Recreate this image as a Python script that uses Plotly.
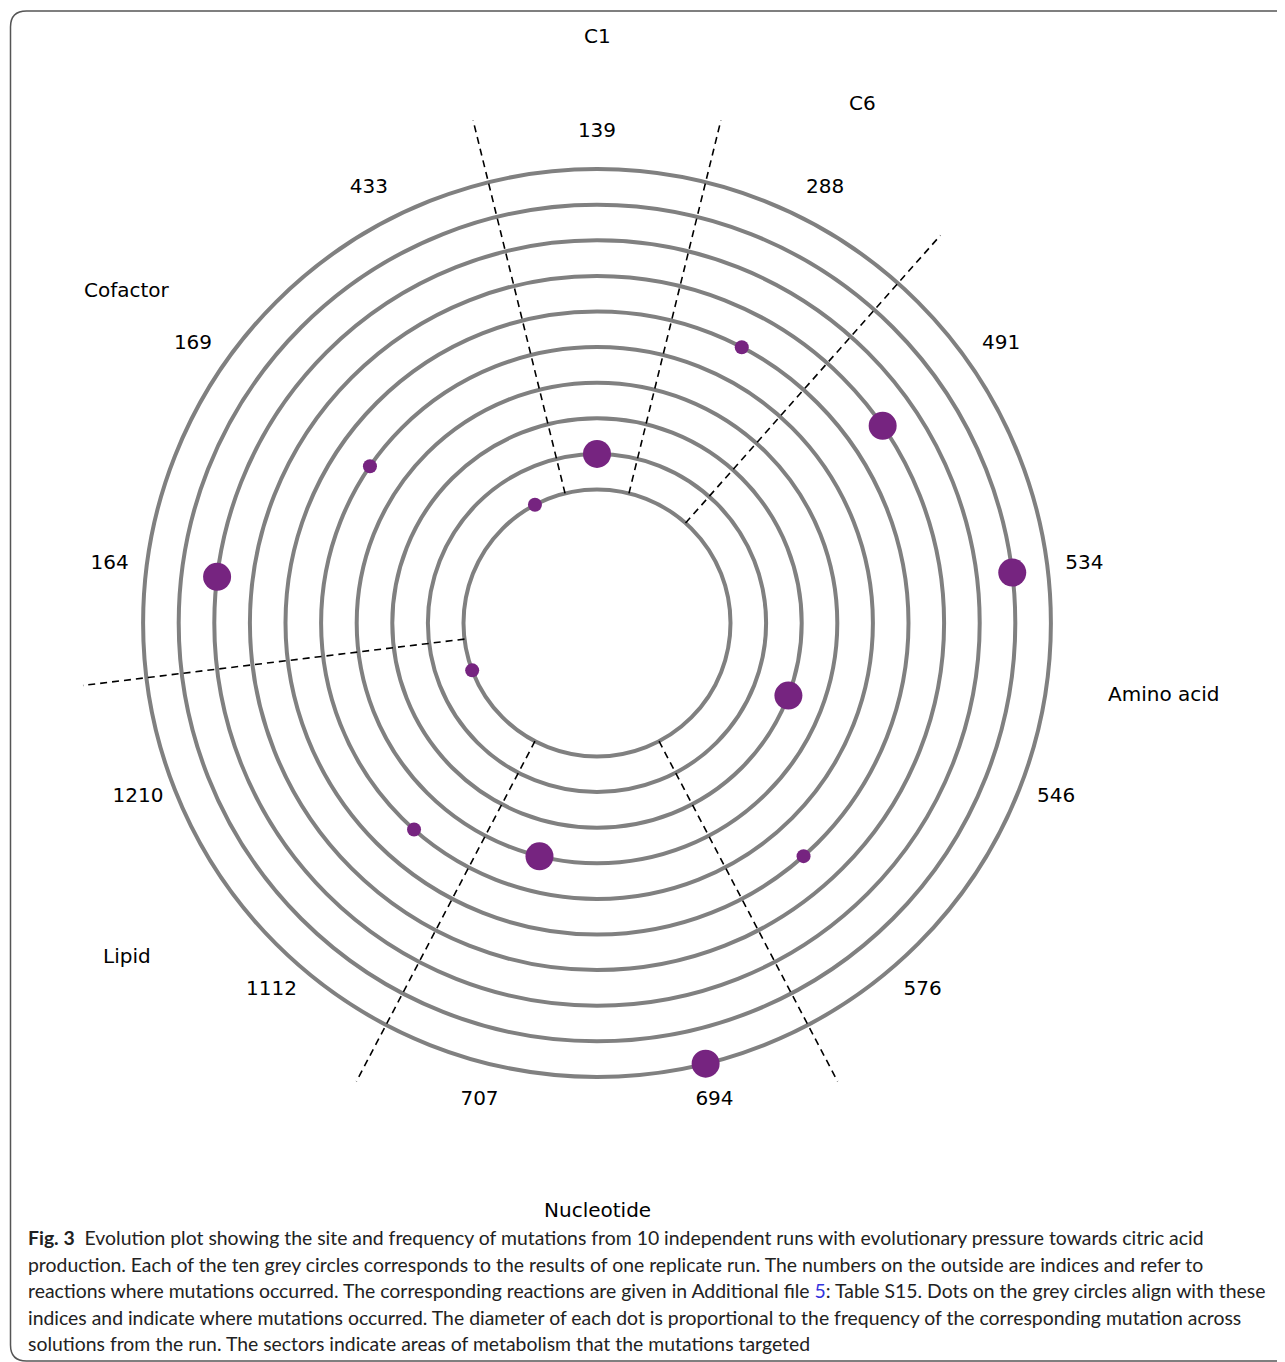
import math
import plotly.graph_objects as go

OFF = 8  # default page body margin
W, H = 1285 - OFF, 1362 - OFF

# ---- data ----
indices = [139, 288, 491, 534, 546, 576, 694, 707, 1112, 1210, 164, 169, 433]
runs = list(range(1, 11))
mut_run = [1, 1, 2, 3, 4, 5, 5, 6, 6, 7, 8, 9, 10]
mut_index = [433, 1210, 139, 546, 707, 169, 1112, 288, 576, 491, 164, 534, 694]
mut_freq = [0.5, 0.5, 1.0, 1.0, 1.0, 0.5, 0.5, 0.5, 0.5, 1.0, 1.0, 1.0, 1.0]
sector_names = ["C1", "C6", "Amino acid", "Nucleotide", "Lipid", "Cofactor"]
sector_members = [[139], [288], [491, 534, 546, 576], [694, 707], [1112, 1210], [164, 169, 433]]

caption_lines = [
    "<b>Fig. 3</b>&nbsp; Evolution plot showing the site and frequency of mutations from 10 independent runs with evolutionary pressure towards citric acid",
    "production. Each of the ten grey circles corresponds to the results of one replicate run. The numbers on the outside are indices and refer to",
    "reactions where mutations occurred. The corresponding reactions are given in Additional file <span style='color:#3333dd'>5</span>: Table S15. Dots on the grey circles align with these",
    "indices and indicate where mutations occurred. The diameter of each dot is proportional to the frequency of the corresponding mutation across",
    "solutions from the run. The sectors indicate areas of metabolism that the mutations targeted",
]

# ---- helpers ----
n = len(indices)
step = 360.0 / n
pos = {v: i for i, v in enumerate(indices)}
theta_of = lambda idx: pos[idx] * step

R_LABEL = 11.04
R_SECTOR = 13.51
R_MAX = 11.8
R_MIN = -2.75
UNIT = 35.6  # px per radial unit

fig = go.Figure()

# sector boundaries (dashed)
boundaries = []
for mem in sector_members:
    boundaries.append((pos[mem[0]] - 0.5) % n)
for b in boundaries:
    fig.add_trace(go.Scatterpolar(
        r=[1, R_MAX], theta=[b * step, b * step], mode="lines",
        line=dict(color="black", width=1.6, dash="7px,5px"),
        hoverinfo="skip", showlegend=False, cliponaxis=False))

# mutation dots
fig.add_trace(go.Scatterpolar(
    r=mut_run, theta=[theta_of(i) for i in mut_index], mode="markers",
    marker=dict(size=[28 * f for f in mut_freq], color="#762480", line=dict(width=0), opacity=1),
    showlegend=False, cliponaxis=False))

# index labels
fig.add_trace(go.Scatterpolar(
    r=[R_LABEL] * n, theta=[theta_of(i) for i in indices], mode="text",
    text=[str(i) for i in indices], textposition="middle center",
    textfont=dict(family="DejaVu Sans", size=20, color="black"),
    showlegend=False, cliponaxis=False, hoverinfo="skip"))

cx, cy = 597 - OFF, 623 - OFF
Rpx = (R_MAX - R_MIN) * UNIT
fig.update_layout(
    width=W, height=H, margin=dict(l=0, r=0, t=0, b=0),
    paper_bgcolor="white", plot_bgcolor="white",
    polar=dict(
        domain=dict(x=[(cx - Rpx) / W, (cx + Rpx) / W],
                    y=[1 - (cy + Rpx) / H, 1 - (cy - Rpx) / H]),
        bgcolor="white",
        radialaxis=dict(range=[R_MIN, R_MAX], tickvals=runs, showgrid=True,
                        gridcolor="#808080", gridwidth=4, showticklabels=False,
                        showline=False, ticks=""),
        angularaxis=dict(rotation=90, direction="clockwise", showgrid=False,
                         showline=False, showticklabels=False, ticks=""),
    ),
)

# sector labels (outside the radial range -> placed as annotations on the same polar geometry)
UX, UY = 35.1, 36.1
for name, mem in zip(sector_names, sector_members):
    a = pos[mem[0]]
    b = pos[mem[-1]]
    if b < a:
        b += n
    th = ((a + b) / 2.0) * step
    ang = math.radians(90 - th)
    d = (R_SECTOR - R_MIN)
    px = cx + d * UX * math.cos(ang)
    py = cy - d * UY * math.sin(ang)
    fig.add_annotation(text=name, x=px / W, y=1 - py / H, xref="paper", yref="paper",
                       xanchor="center", yanchor="middle", showarrow=False,
                       font=dict(family="DejaVu Sans", size=20, color="black"))

# rounded border
x0, y0 = (10.5 - OFF) / W, 1 - (11 - OFF) / H
x1, y1 = 1.02, 1 - (1361 - OFF) / H
rx, ry = 16 / W, 16 / H
path = (f"M {x1},{y0} L {x0+rx},{y0} Q {x0},{y0} {x0},{y0-ry} "
        f"L {x0},{y1+ry} Q {x0},{y1} {x0+rx},{y1} L {x1},{y1}")
fig.add_shape(type="path", path=path, xref="paper", yref="paper",
              line=dict(color="#555555", width=1.5))

# caption
cap_y = [1237, 1264, 1290, 1317, 1343]
for yy, line in zip(cap_y, caption_lines):
    fig.add_annotation(text=line, x=(26 - OFF) / W, y=1 - (yy - OFF) / H, xref="paper", yref="paper",
                       xanchor="left", yanchor="middle", showarrow=False,
                       font=dict(family="Lato", size=19.4, color="#222222"))

fig.write_html("out.html")
